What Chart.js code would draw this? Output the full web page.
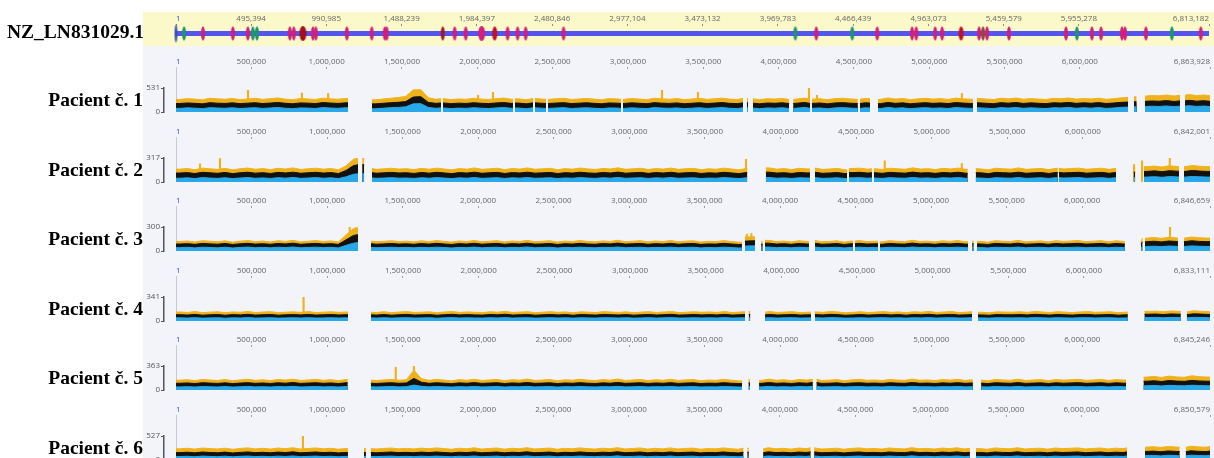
<!DOCTYPE html>
<html>
<head>
<meta charset="utf-8">
<script src="https://cdn.jsdelivr.net/npm/chart.js@4.4.1/dist/chart.umd.min.js"></script>
<style>
  body { margin: 0; width: 1214px; height: 458px; overflow: hidden; background: #fff; position: relative; }
  .band { position: absolute; left: 143px; width: 1071px; }
  .name { position: absolute; left: 0; width: 143px; text-align: right; font: bold 19.5px "Liberation Serif", "Times New Roman", serif; line-height: 20px; color: #000; white-space: nowrap; }
  canvas { position: absolute; left: 143px; }
</style>
</head>
<body>
<div class="band" style="top:12px;height:34px;background:#fbf8c9"></div>
<div class="band" style="top:46px;height:412px;background:#f3f3fa"></div>
<canvas id="ref" width="1071" height="34" style="top:12px"></canvas>
<div class="name" style="left:7px;width:auto;text-align:left;top:22.4px">NZ_LN831029.1</div>
<script>
"use strict";

Chart.defaults.font.family = "'Open Sans', sans-serif";
Chart.defaults.font.size = 8;
Chart.defaults.animation = false;

// referencni genom
const REF_LENGTH = 6813182;
const refTicks = [1, 495394, 990985, 1488239, 1984397, 2480846, 2977104, 3473132, 3969783, 4466439, 4963073, 5459579, 5955278, 6813182];
const geneKb = [53, 178, 375, 474, 507, 534, 751, 777, 837, 903, 922, 1127, 1291, 1377, 1390, 1759, 1838, 1911, 2016, 2102, 2187, 2253, 2306, 2556, 4085, 4223, 4460, 4625, 4855, 4882, 5007, 5053, 5178, 5297, 5323, 5349, 5494, 5870, 5942, 6041, 6101, 6239, 6259, 6397, 6568, 6759];
const geneKind = ["g", "m", "m", "m", "g", "g", "m", "m", "R", "m", "m", "m", "m", "m", "m", "d", "m", "m", "M", "r", "m", "m", "m", "m", "g", "m", "g", "m", "m", "m", "m", "m", "r", "m", "b", "m", "m", "m", "g", "m", "m", "m", "m", "m", "g", "m"];

// pacienti
const patientNames = ["Pacient č. 1", "Pacient č. 2", "Pacient č. 3", "Pacient č. 4", "Pacient č. 5", "Pacient č. 6"];
const patientLengths = [6863928, 6842001, 6846659, 6833111, 6845246, 6850579];
const patientYMax = [531, 317, 300, 341, 363, 527];
const patientTicks = [1, 500000, 1000000, 1500000, 2000000, 2500000, 3000000, 3500000, 4000000, 4500000, 5000000, 5500000, 6000000];
const BIN_KB = 50;

const p1Max = [
  277, 296, 285, 270, 305, 291, 283, 299, 274, 288,
  303, 280, 294, 311, 285, 273, 298, 289, 277, 306,
  292, 283, 300, 285, 285, 285, 270, 287, 305, 320,
  345, 490, 495, 315, 283, 296, 274, 289, 281, 304,
  286, 277, 295, 309, 283, 291, 272, 299, 287, 280,
  294, 303, 278, 289, 301, 285, 273, 296, 290, 281,
  299, 286, 275, 305, 291, 283, 297, 274, 288, 302,
  280, 293, 306, 285, 277, 299, 291, 273, 295, 287,
  301, 278, 290, 308, 283, 294, 272, 297, 305, 289,
  281, 300, 293, 277, 311, 286, 298, 274, 291, 303,
  285, 296, 279, 307, 292, 283, 300, 288, 275, 304,
  291, 309, 283, 298, 286, 277, 302, 294, 311, 285,
  299, 288, 306, 281, 295, 313, 325, 335, 350, 365,
  357, 375, 353, 370, 385, 363, 377, 360];
const p1Mean = [
  188, 200, 192, 180, 206, 195, 190, 202, 185, 196,
  205, 188, 198, 210, 193, 182, 201, 196, 187, 208,
  198, 190, 203, 195, 195, 195, 180, 193, 206, 215,
  230, 330, 340, 212, 191, 200, 184, 196, 189, 205,
  193, 186, 200, 209, 191, 197, 181, 202, 194, 188,
  199, 206, 187, 195, 204, 192, 182, 200, 196, 189,
  202, 193, 184, 207, 196, 190, 201, 183, 194, 205,
  188, 198, 208, 192, 185, 202, 196, 181, 199, 193,
  204, 186, 196, 210, 190, 199, 180, 201, 207, 195,
  188, 203, 198, 185, 211, 192, 202, 182, 196, 206,
  191, 200, 186, 209, 197, 189, 203, 194, 183, 207,
  196, 210, 190, 202, 193, 185, 205, 198, 212, 191,
  203, 194, 208, 188, 199, 213, 220, 226, 235, 245,
  238, 252, 234, 246, 258, 240, 250, 236];
const p1Min = [
  80, 92, 85, 74, 96, 88, 82, 94, 76, 87,
  95, 79, 89, 100, 84, 73, 91, 86, 78, 98,
  88, 81, 93, 85, 85, 85, 72, 84, 96, 102,
  115, 180, 185, 100, 82, 90, 75, 87, 80, 95,
  84, 77, 90, 99, 82, 88, 72, 92, 85, 79,
  89, 96, 78, 86, 94, 83, 73, 90, 87, 80,
  92, 84, 75, 97, 87, 81, 91, 74, 85, 95,
  79, 89, 98, 83, 76, 92, 87, 72, 90, 84,
  94, 77, 87, 100, 81, 89, 71, 91, 97, 86,
  79, 93, 88, 76, 101, 83, 92, 73, 87, 96,
  82, 90, 77, 99, 88, 80, 93, 85, 74, 97,
  87, 100, 81, 92, 84, 76, 95, 89, 102, 82,
  93, 85, 98, 79, 89, 103, 108, 114, 120, 128,
  122, 134, 118, 130, 140, 124, 132, 120];
const p1Gaps = [[1142, 1301], [1759, 1772], [2237, 2250], [2370, 2383], [2456, 2469], [2954, 2967], [3764, 3790], [3797, 3830], [4070, 4097], [4209, 4222], [4527, 4540], [4607, 4660], [5290, 5317], [6320, 6359], [6379, 6432], [6665, 6698]];
const p1Spikes = [[478, 480], [836, 420], [1010, 410], [2005, 370], [2104, 435], [3226, 480], [3465, 435], [4202, 531], [4255, 370], [5217, 410]];

const p2Max = [
  170, 178, 162, 183, 174, 167, 180, 161, 175, 184,
  169, 177, 164, 181, 172, 186, 166, 175, 182, 170,
  178, 163, 212, 302, 312, 177, 167, 174, 182, 171,
  176, 164, 180, 169, 183, 172, 161, 178, 170, 185,
  167, 175, 182, 164, 178, 171, 186, 169, 174, 181,
  162, 177, 170, 184, 173, 166, 179, 172, 187, 168,
  175, 182, 165, 178, 171, 184, 167, 176, 180, 163,
  174, 169, 183, 172, 161, 179, 175, 168, 186, 170,
  177, 164, 181, 173, 185, 167, 172, 180, 162, 178,
  183, 170, 175, 166, 182, 174, 169, 187, 171, 176,
  165, 180, 172, 184, 168, 177, 173, 161, 182, 175,
  170, 186, 167, 174, 179, 164, 181, 172, 178, 183,
  169, 176, 182, 167, 180, 173, 185, 171, 202, 210,
  197, 214, 204, 200, 217, 208, 202, 212];
const p2Mean = [
  118, 124, 112, 128, 121, 115, 126, 111, 122, 129,
  117, 123, 113, 127, 120, 130, 115, 122, 128, 118,
  124, 112, 152, 217, 227, 123, 116, 121, 127, 119,
  122, 113, 126, 117, 128, 120, 111, 124, 118, 130,
  115, 122, 127, 113, 124, 119, 130, 117, 121, 126,
  112, 123, 118, 129, 120, 115, 125, 119, 131, 116,
  122, 127, 114, 124, 119, 128, 116, 122, 126, 113,
  121, 117, 128, 120, 111, 125, 122, 116, 130, 118,
  123, 113, 126, 120, 129, 115, 119, 125, 112, 124,
  128, 118, 122, 115, 127, 121, 117, 131, 119, 123,
  114, 125, 120, 129, 116, 123, 121, 111, 127, 122,
  118, 130, 115, 121, 125, 113, 126, 120, 124, 128,
  117, 122, 127, 115, 126, 120, 129, 118, 140, 147,
  136, 150, 142, 138, 152, 144, 140, 148];
const p2Min = [
  50, 55, 46, 58, 52, 48, 56, 45, 53, 59,
  49, 54, 47, 57, 51, 60, 48, 53, 58, 50,
  55, 46, 68, 102, 108, 54, 49, 52, 57, 51,
  53, 47, 56, 50, 58, 52, 45, 55, 50, 59,
  48, 53, 57, 47, 55, 51, 59, 49, 52, 56,
  46, 54, 50, 58, 52, 48, 56, 51, 60, 49,
  53, 57, 47, 55, 51, 58, 49, 53, 56, 46,
  52, 50, 58, 52, 45, 56, 53, 49, 59, 50,
  54, 47, 56, 52, 58, 48, 51, 56, 46, 55,
  57, 50, 53, 48, 57, 52, 50, 60, 51, 54,
  47, 56, 52, 58, 49, 54, 52, 45, 57, 53,
  50, 59, 48, 52, 56, 47, 57, 52, 55, 58,
  49, 53, 57, 48, 56, 52, 58, 50, 65, 70,
  62, 72, 67, 64, 73, 68, 65, 70];
const p2Gaps = [[1205, 1232], [1245, 1297], [3780, 3903], [4195, 4228], [4440, 4453], [4605, 4618], [5239, 5292], [5835, 5842], [6220, 6337], [6347, 6405], [6637, 6670]];
const p2Spikes = [[159, 240], [291, 310], [3772, 300], [4690, 280], [5200, 245], [6339, 230], [6392, 280], [6576, 317]];

const p3Max = [
  118, 125, 112, 129, 121, 115, 127, 110, 123, 131,
  117, 124, 113, 128, 120, 133, 114, 122, 130, 119,
  126, 112, 200, 280, 290, 124, 116, 121, 128, 118,
  123, 113, 127, 117, 130, 120, 111, 125, 118, 132,
  115, 122, 129, 113, 125, 119, 133, 116, 121, 128,
  111, 124, 118, 131, 120, 114, 126, 119, 134, 116,
  122, 129, 114, 125, 118, 131, 115, 123, 127, 112,
  121, 117, 130, 119, 110, 175, 178, 116, 133, 118,
  124, 113, 128, 120, 132, 115, 119, 127, 111, 125,
  130, 118, 122, 114, 129, 121, 117, 134, 119, 123,
  114, 127, 120, 131, 116, 124, 121, 110, 129, 122,
  118, 133, 115, 121, 126, 113, 128, 120, 125, 130,
  117, 123, 129, 116, 127, 120, 132, 119, 160, 168,
  158, 172, 163, 160, 175, 166, 162, 170];
const p3Mean = [
  87, 92, 83, 95, 89, 85, 94, 82, 90, 96,
  86, 91, 84, 94, 88, 98, 84, 90, 95, 87,
  92, 83, 139, 194, 204, 91, 85, 89, 94, 87,
  90, 84, 93, 86, 96, 88, 82, 92, 87, 97,
  85, 90, 95, 84, 92, 88, 98, 86, 89, 94,
  82, 91, 87, 96, 88, 84, 93, 88, 99, 86,
  90, 95, 84, 92, 87, 96, 85, 91, 94, 83,
  89, 86, 96, 88, 82, 124, 128, 86, 98, 87,
  91, 84, 94, 88, 97, 85, 88, 93, 82, 92,
  96, 87, 90, 84, 95, 89, 86, 99, 88, 91,
  84, 93, 88, 96, 86, 91, 89, 82, 95, 90,
  87, 98, 85, 89, 93, 84, 94, 88, 92, 96,
  86, 90, 95, 85, 94, 88, 97, 87, 116, 122,
  114, 125, 119, 116, 128, 120, 117, 123];
const p3Min = [
  42, 46, 39, 48, 43, 40, 47, 38, 44, 49,
  41, 45, 40, 47, 43, 50, 40, 44, 48, 42,
  46, 39, 70, 98, 105, 45, 41, 43, 47, 42,
  44, 40, 46, 41, 48, 43, 38, 45, 42, 49,
  40, 44, 47, 40, 45, 43, 50, 41, 43, 47,
  38, 45, 42, 48, 43, 40, 46, 43, 50, 41,
  44, 47, 40, 45, 42, 48, 41, 45, 47, 39,
  43, 41, 48, 43, 38, 62, 65, 41, 49, 42,
  45, 40, 47, 43, 49, 41, 43, 46, 39, 45,
  48, 42, 44, 40, 47, 44, 41, 50, 43, 45,
  40, 46, 43, 48, 41, 45, 44, 38, 47, 44,
  42, 49, 41, 44, 46, 40, 47, 43, 45, 48,
  41, 44, 47, 41, 47, 43, 48, 42, 56, 60,
  55, 62, 58, 56, 64, 59, 57, 61];
const p3Gaps = [[1205, 1291], [3747, 3767], [3834, 3875], [3885, 3900], [4191, 4231], [4482, 4496], [4648, 4661], [5244, 5272], [5282, 5304], [6283, 6390], [6400, 6416], [6634, 6674]];
const p3Spikes = [[1150, 300], [1190, 290], [3780, 210], [3810, 220], [6582, 300]];

const p4Max = [
  128, 121, 134, 119, 126, 132, 117, 129, 124, 136,
  120, 127, 133, 118, 125, 130, 122, 135, 119, 126,
  131, 123, 128, 125, 125, 125, 120, 132, 118, 127,
  134, 121, 126, 130, 117, 128, 135, 122, 129, 124,
  119, 131, 125, 137, 121, 127, 132, 118, 126, 133,
  123, 129, 116, 131, 125, 120, 134, 127, 122, 130,
  118, 126, 133, 121, 128, 135, 119, 125, 131, 124,
  129, 122, 136, 120, 127, 131, 118, 126, 134, 121,
  127, 133, 119, 125, 130, 122, 136, 128, 117, 124,
  132, 120, 127, 134, 123, 129, 118, 131, 125, 137,
  121, 128, 135, 119, 126, 132, 124, 117, 130, 127,
  125, 131, 122, 136, 128, 120, 133, 126, 119, 129,
  134, 123, 127, 131, 118, 126, 135, 129, 136, 140,
  132, 142, 137, 130, 144, 138, 133, 141];
const p4Mean = [
  90, 85, 94, 83, 88, 92, 82, 91, 87, 95,
  84, 89, 93, 83, 88, 91, 86, 94, 84, 89,
  92, 86, 90, 88, 88, 88, 84, 92, 83, 89,
  94, 85, 88, 91, 82, 90, 95, 86, 91, 87,
  84, 92, 88, 96, 85, 89, 92, 83, 88, 93,
  86, 91, 82, 92, 88, 84, 94, 89, 86, 91,
  83, 88, 93, 85, 90, 95, 84, 88, 92, 87,
  91, 86, 95, 84, 89, 92, 83, 88, 94, 85,
  89, 93, 84, 88, 91, 86, 95, 90, 82, 87,
  92, 84, 89, 94, 86, 91, 83, 92, 88, 96,
  85, 90, 94, 84, 88, 92, 87, 82, 91, 89,
  88, 92, 86, 95, 90, 84, 93, 88, 84, 91,
  94, 86, 89, 92, 83, 88, 95, 91, 96, 99,
  92, 100, 97, 91, 102, 98, 93, 99];
const p4Min = [
  45, 42, 47, 41, 44, 46, 40, 45, 43, 48,
  42, 44, 47, 41, 44, 46, 43, 47, 42, 44,
  46, 43, 45, 44, 44, 44, 42, 46, 41, 45,
  47, 42, 44, 46, 40, 45, 48, 43, 45, 43,
  42, 46, 44, 48, 42, 45, 46, 41, 44, 47,
  43, 45, 41, 46, 44, 42, 47, 45, 43, 46,
  41, 44, 47, 42, 45, 48, 42, 44, 46, 43,
  45, 43, 48, 42, 45, 46, 41, 44, 47, 42,
  45, 47, 42, 44, 46, 43, 48, 45, 41, 43,
  46, 42, 45, 47, 43, 45, 41, 46, 44, 48,
  42, 45, 47, 42, 44, 46, 44, 41, 46, 45,
  44, 46, 43, 48, 45, 42, 47, 44, 42, 46,
  47, 43, 45, 46, 41, 44, 48, 46, 49, 51,
  46, 51, 49, 45, 52, 50, 47, 50];
const p4Gaps = [[1137, 1289], [3760, 3785], [3795, 3893], [4196, 4222], [5260, 5300], [6290, 6400], [6640, 6680]];
const p4Spikes = [[843, 341]];

const p5Max = [
  148, 156, 141, 160, 151, 145, 158, 139, 153, 162,
  146, 155, 142, 159, 150, 164, 144, 152, 161, 147,
  156, 141, 158, 150, 150, 150, 143, 152, 160, 148,
  154, 300, 170, 146, 161, 150, 138, 157, 147, 163,
  144, 152, 160, 141, 156, 149, 165, 145, 151, 159,
  139, 155, 148, 162, 150, 143, 157, 149, 166, 145,
  152, 160, 142, 156, 147, 162, 144, 153, 158, 140,
  151, 146, 161, 149, 138, 157, 152, 145, 164, 147,
  155, 141, 159, 150, 163, 144, 149, 157, 139, 154,
  161, 147, 152, 143, 160, 151, 146, 165, 148, 153,
  142, 158, 150, 162, 145, 155, 151, 138, 160, 152,
  147, 164, 144, 151, 157, 141, 159, 150, 155, 161,
  146, 153, 160, 144, 158, 150, 163, 148, 195, 205,
  190, 210, 198, 192, 215, 202, 196, 208];
const p5Mean = [
  102, 107, 98, 110, 104, 100, 108, 97, 105, 111,
  101, 106, 99, 109, 103, 113, 100, 105, 110, 102,
  107, 98, 109, 103, 103, 103, 99, 105, 110, 102,
  106, 175, 117, 101, 110, 103, 96, 108, 102, 112,
  100, 105, 110, 98, 107, 103, 113, 101, 104, 109,
  97, 106, 102, 111, 103, 99, 108, 103, 114, 101,
  105, 110, 99, 107, 102, 111, 100, 105, 109, 98,
  104, 101, 111, 103, 97, 108, 105, 101, 112, 102,
  106, 99, 109, 103, 112, 100, 103, 108, 97, 106,
  110, 102, 105, 100, 110, 104, 101, 113, 102, 105,
  99, 108, 103, 111, 101, 107, 104, 97, 110, 105,
  102, 112, 100, 104, 108, 99, 109, 103, 107, 111,
  101, 105, 110, 100, 109, 103, 112, 102, 133, 139,
  129, 143, 135, 131, 145, 137, 133, 141];
const p5Min = [
  47, 51, 45, 53, 48, 46, 52, 44, 49, 54,
  47, 50, 45, 52, 48, 55, 46, 49, 53, 47,
  51, 45, 52, 48, 48, 48, 46, 49, 53, 47,
  50, 74, 56, 47, 53, 48, 44, 51, 47, 54,
  46, 49, 53, 45, 51, 48, 55, 47, 49, 52,
  44, 50, 48, 53, 48, 46, 51, 48, 55, 47,
  49, 53, 46, 51, 48, 53, 46, 49, 52, 45,
  48, 47, 53, 48, 45, 51, 49, 47, 54, 47,
  50, 46, 52, 48, 54, 46, 48, 51, 45, 50,
  53, 47, 49, 46, 53, 48, 47, 55, 48, 49,
  46, 51, 48, 53, 47, 50, 48, 45, 53, 49,
  47, 54, 46, 49, 51, 46, 52, 48, 50, 53,
  47, 49, 53, 46, 52, 48, 54, 47, 64, 68,
  62, 70, 66, 63, 72, 67, 64, 69];
const p5Gaps = [[1137, 1290], [3747, 3790], [3800, 3860], [4216, 4240], [5276, 5330], [6290, 6405]];
const p5Spikes = [[1455, 345], [1575, 363]];

const p6Max = [
  246, 258, 239, 263, 250, 242, 260, 236, 253, 266,
  244, 256, 240, 262, 249, 268, 241, 252, 264, 245,
  257, 238, 251, 250, 250, 250, 241, 253, 263, 246,
  255, 243, 261, 247, 265, 250, 236, 259, 245, 267,
  241, 252, 263, 238, 257, 248, 269, 242, 251, 262,
  236, 256, 246, 266, 250, 240, 259, 248, 270, 242,
  253, 264, 239, 257, 244, 266, 241, 254, 261, 237,
  251, 245, 265, 249, 235, 259, 253, 243, 268, 246,
  256, 238, 262, 250, 267, 241, 248, 259, 236, 254,
  265, 246, 253, 240, 264, 251, 244, 270, 247, 255,
  239, 261, 250, 267, 243, 256, 251, 235, 264, 253,
  245, 269, 241, 252, 259, 238, 262, 250, 257, 266,
  243, 254, 263, 241, 260, 250, 268, 247, 280, 292,
  276, 298, 285, 279, 302, 288, 282, 296];
const p6Mean = [
  162, 171, 157, 175, 165, 159, 173, 155, 167, 177,
  161, 169, 158, 174, 164, 179, 158, 166, 176, 162,
  170, 156, 166, 165, 165, 165, 158, 167, 175, 162,
  168, 160, 173, 163, 176, 165, 155, 171, 162, 178,
  158, 167, 175, 157, 170, 164, 180, 160, 166, 174,
  155, 169, 162, 177, 165, 158, 172, 164, 181, 160,
  167, 176, 157, 170, 161, 177, 159, 168, 173, 156,
  166, 162, 176, 164, 155, 171, 167, 160, 179, 162,
  169, 157, 174, 165, 178, 159, 164, 171, 155, 168,
  176, 162, 167, 158, 175, 166, 161, 181, 163, 169,
  157, 173, 165, 178, 160, 169, 166, 155, 175, 167,
  162, 180, 159, 166, 171, 157, 174, 165, 170, 177,
  160, 168, 175, 159, 172, 165, 179, 163, 186, 195,
  182, 199, 189, 184, 202, 191, 186, 197];
const p6Min = [
  76, 82, 72, 86, 78, 74, 84, 70, 80, 87,
  75, 81, 73, 85, 77, 89, 73, 79, 86, 76,
  82, 71, 79, 78, 78, 78, 73, 80, 85, 76,
  80, 74, 84, 77, 86, 78, 70, 83, 76, 88,
  73, 79, 86, 72, 82, 77, 90, 74, 79, 85,
  70, 81, 76, 87, 78, 73, 83, 77, 91, 74,
  79, 86, 72, 82, 75, 87, 73, 80, 84, 71,
  78, 76, 86, 77, 70, 83, 79, 74, 89, 76,
  81, 72, 85, 78, 88, 73, 77, 83, 70, 80,
  86, 76, 79, 73, 86, 78, 75, 91, 77, 81,
  72, 84, 78, 88, 74, 81, 78, 70, 86, 79,
  76, 90, 73, 78, 83, 72, 85, 77, 82, 87,
  74, 80, 86, 73, 84, 78, 89, 76, 95, 101,
  90, 104, 97, 92, 106, 98, 94, 102];
const p6Gaps = [[1139, 1245], [1258, 1291], [3760, 3785], [3795, 3890], [4205, 4228], [5260, 5300], [6300, 6420], [6650, 6690]];
const p6Spikes = [[841, 527]];

const coverage = [
  [p1Max, p1Mean, p1Min, p1Gaps, p1Spikes],
  [p2Max, p2Mean, p2Min, p2Gaps, p2Spikes],
  [p3Max, p3Mean, p3Min, p3Gaps, p3Spikes],
  [p4Max, p4Mean, p4Min, p4Gaps, p4Spikes],
  [p5Max, p5Mean, p5Min, p5Gaps, p5Spikes],
  [p6Max, p6Mean, p6Min, p6Gaps, p6Spikes],
];

const YELLOW = "#efb21d";
const BLACK = "#111111";
const BLUE = "#28a8e8";
const TRACK_PX = 1034;   // 1 .. konec genomu
const AXIS_GAP = 12;     // osa y vlevo od zacatku

const isFirst = (c) => c.tick && c.tick.value === 1;
const fmt = (v) => Number(v).toLocaleString("en-US");

function buildTrack(vals, gaps, lengthBp) {
  const inGap = (kb) => gaps.some(([a, b]) => kb > a && kb < b);
  const valAt = (kb) => vals[Math.min(Math.floor(kb / BIN_KB), vals.length - 1)];
  const pts = [];
  vals.forEach((v, i) => {
    const kb = (i + 0.5) * BIN_KB;
    if (!inGap(kb)) pts.push({ x: kb * 1000, y: v });
  });
  gaps.forEach(([a, b]) => {
    pts.push({ x: a * 1000, y: valAt(a) }, { x: (a + b) * 500, y: null }, { x: b * 1000, y: valAt(b) });
  });
  pts.push({ x: 1, y: vals[0] }, { x: lengthBp, y: valAt(lengthBp / 1000) });
  return pts.sort((p, q) => p.x - q.x);
}

function area(data, color) {
  return { type: "line", data, borderColor: color, backgroundColor: color, borderWidth: 1, fill: "origin", pointRadius: 0, tension: 0 };
}

// znacky genu
function lens(color, w, h) {
  const c = document.createElement("canvas");
  c.width = w + 2;
  c.height = h + 2;
  const g = c.getContext("2d");
  g.fillStyle = color;
  g.beginPath();
  g.ellipse(c.width / 2, c.height / 2, w / 2, h / 2, 0, 0, Math.PI * 2);
  g.fill();
  return c;
}
const geneImages = {
  m: lens("#d31f7c", 4, 14),
  M: lens("#d31f7c", 7, 15),
  g: lens("#1f9470", 4, 14),
  d: lens("#9e1a2a", 4, 14),
  r: lens("#c0102a", 5, 14),
  R: lens("#a3121c", 7, 15),
  b: lens("#8a4c3c", 4, 14),
};
const startBar = lens("#3556b0", 3, 18);

new Chart(document.getElementById("ref"), {
  type: "line",
  data: {
    datasets: [
      { data: [{ x: 1, y: 1 }], showLine: false, pointStyle: startBar, pointRadius: 3, clip: false },
      { data: geneKb.map((kb) => ({ x: kb * 1000, y: 1 })), showLine: false, pointStyle: (c) => geneImages[geneKind[c.dataIndex]], pointRadius: 3, clip: false },
      { data: [{ x: 1, y: 1 }, { x: REF_LENGTH, y: 1 }], borderColor: "#5454ee", borderWidth: 5, pointRadius: 0, clip: false },
    ],
  },
  options: {
    responsive: false,
    events: [],
    layout: { padding: { left: 33, right: 4, top: 0, bottom: 4 } },
    plugins: { legend: { display: false }, tooltip: { enabled: false } },
    scales: {
      x: {
        type: "linear", position: "top", min: 1, max: REF_LENGTH,
        afterBuildTicks: (s) => { s.ticks = refTicks.map((v) => ({ value: v })); },
        afterFit: (s) => { s.height = 14; },
        border: { display: false },
        grid: { drawOnChartArea: false, tickLength: 2, tickColor: "#8a8a8a" },
        ticks: { align: "inner", padding: 0, autoSkip: false, maxRotation: 0, color: (c) => (isFirst(c) ? "#3b4de0" : "#666"), callback: fmt },
      },
      y: { display: false, min: 0, max: 2 },
    },
  },
});

// radky pacientu
patientNames.forEach((name, i) => {
  const top = 48 + Math.round(i * 69.6);
  const len = patientLengths[i];
  const yMax = patientYMax[i];
  const [maxV, meanV, minV, gaps, spikes] = coverage[i];
  const bpp = (len - 1) / TRACK_PX;
  const ticks = patientTicks.concat([len]);

  const label = document.createElement("div");
  label.className = "name";
  label.style.top = (top + 42.4) + "px";
  label.textContent = name;

  const canvas = document.createElement("canvas");
  canvas.width = 1071;
  canvas.height = 70;
  canvas.style.top = top + "px";
  document.body.appendChild(canvas);
  document.body.appendChild(label);

  new Chart(canvas, {
    type: "line",
    data: {
      datasets: [
        area(buildTrack(minV, gaps, len), BLUE),
        area(buildTrack(meanV, gaps, len), BLACK),
        { type: "bar", data: spikes.map(([kb, h]) => ({ x: kb * 1000, y: h })), backgroundColor: YELLOW, barThickness: 1.5 },
        area(buildTrack(maxV, gaps, len), YELLOW),
      ],
    },
    options: {
      responsive: false,
      events: [],
      layout: { padding: { left: 0, right: 4, top: 9, bottom: 6 } },
      plugins: { legend: { display: false }, tooltip: { enabled: false } },
      scales: {
        x: {
          type: "linear", position: "top", min: 1 - AXIS_GAP * bpp, max: len, offset: false,
          afterBuildTicks: (s) => { s.ticks = ticks.map((v) => ({ value: v })); },
          afterFit: (s) => { s.height = 31; },
          border: { display: false },
          grid: {
            offset: false,
            color: (c) => (isFirst(c) ? "#c8c8d2" : "rgba(0,0,0,0)"),
            tickColor: (c) => (isFirst(c) ? "#c8c8d2" : "#9c9ca6"),
            tickLength: 21,
            tickBorderDash: (c) => (isFirst(c) ? [] : [2, 40]),
          },
          ticks: { align: "inner", padding: 0, autoSkip: false, maxRotation: 0, color: (c) => (isFirst(c) ? "#3b4de0" : "#666"), callback: fmt },
        },
        y: {
          min: 0, max: yMax,
          afterBuildTicks: (s) => { s.ticks = [{ value: 0 }, { value: yMax }]; },
          afterFit: (s) => { s.width = 21; },
          border: { color: "#555", width: 1.5 },
          grid: { drawOnChartArea: false, color: "#555", tickLength: 3 },
          ticks: { padding: 1, color: "#555" },
        },
      },
    },
  });
});
</script>
</body>
</html>
